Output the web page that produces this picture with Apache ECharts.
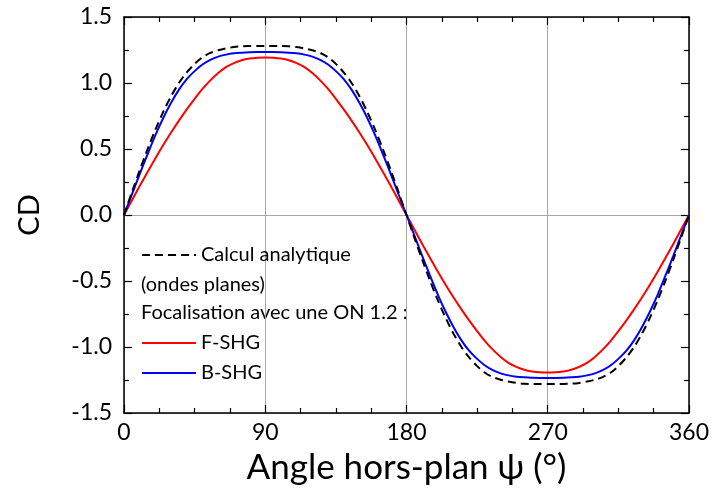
<!DOCTYPE html>
<html>
<head>
<meta charset="utf-8">
<script src="https://cdn.jsdelivr.net/npm/echarts@6/dist/echarts.min.js"></script>
<style>
html,body{margin:0;padding:0;background:#fff;}
#c{width:712px;height:497px;}
</style>
</head>
<body>
<div id="c"></div>
<script>
// Data (every 5 degrees)
var angles = [0,5,10,15,20,25,30,35,40,45,50,55,60,65,70,75,80,85,90,
  95,100,105,110,115,120,125,130,135,140,145,150,155,160,165,170,175,180,
  185,190,195,200,205,210,215,220,225,230,235,240,245,250,255,260,265,270,
  275,280,285,290,295,300,305,310,315,320,325,330,335,340,345,350,355,360];
var analytique = [0,0.171,0.339,0.498,0.647,0.781,0.900,1.000,1.080,1.145,1.195,1.228,1.248,1.262,1.272,1.278,1.280,1.281,1.281,
  1.281,1.280,1.278,1.272,1.262,1.248,1.228,1.195,1.145,1.080,1.000,0.900,0.781,0.647,0.498,0.339,0.171,0,
  -0.171,-0.339,-0.498,-0.647,-0.781,-0.900,-1.000,-1.080,-1.145,-1.195,-1.228,-1.248,-1.262,-1.272,-1.278,-1.280,-1.281,-1.281,
  -1.281,-1.280,-1.278,-1.272,-1.262,-1.248,-1.228,-1.195,-1.145,-1.080,-1.000,-0.900,-0.781,-0.647,-0.498,-0.339,-0.171,0];
var fshg = [0,0.110,0.220,0.325,0.430,0.530,0.625,0.715,0.800,0.880,0.955,1.020,1.075,1.120,1.150,1.172,1.185,1.192,1.194,
  1.192,1.185,1.172,1.150,1.120,1.075,1.020,0.955,0.880,0.800,0.715,0.625,0.530,0.430,0.325,0.220,0.110,0,
  -0.110,-0.220,-0.325,-0.430,-0.530,-0.625,-0.715,-0.800,-0.880,-0.955,-1.020,-1.075,-1.120,-1.150,-1.172,-1.185,-1.192,-1.194,
  -1.192,-1.185,-1.172,-1.150,-1.120,-1.075,-1.020,-0.955,-0.880,-0.800,-0.715,-0.625,-0.530,-0.430,-0.325,-0.220,-0.110,0];
var bshg = [0,0.155,0.310,0.460,0.605,0.735,0.850,0.950,1.030,1.090,1.140,1.175,1.200,1.215,1.225,1.230,1.233,1.234,1.234,
  1.234,1.233,1.230,1.225,1.215,1.200,1.175,1.140,1.090,1.030,0.950,0.850,0.735,0.605,0.460,0.310,0.155,0,
  -0.155,-0.310,-0.460,-0.605,-0.735,-0.850,-0.950,-1.030,-1.090,-1.140,-1.175,-1.200,-1.215,-1.225,-1.230,-1.233,-1.234,-1.234,
  -1.234,-1.233,-1.230,-1.225,-1.215,-1.200,-1.175,-1.140,-1.090,-1.030,-0.950,-0.850,-0.735,-0.605,-0.460,-0.310,-0.155,0];
var xTicks = [0,90,180,270,360];
var yTicks = [-1.5,-1.0,-0.5,0.0,0.5,1.0,1.5];
var names = ['Calcul analytique','F-SHG','B-SHG'];
var legendNote1 = '(ondes planes)';
var legendNote2 = 'Focalisation avec une ON 1.2 :';
var xTitle = 'Angle hors-plan \u03C8 (\u00B0)';
var yTitle = 'CD';

function pairs(xs, ys){ return xs.map(function(x,i){ return [x, ys[i]]; }); }

var FONT = 'Lato';
var chart = echarts.init(document.getElementById('c'));
var frameAxisLine = {show:true, onZero:false, lineStyle:{color:'#000', width:1.5}};
var tickStyle = {color:'#000', width:1.2};
var option = {
  animation:false,
  backgroundColor:'#fff',
  grid:{left:124, right:21, top:17, bottom:84, containLabel:false},
  xAxis:[
    {type:'value', min:xTicks[0], max:xTicks[xTicks.length-1], interval:90, position:'bottom',
     axisLine:frameAxisLine,
     axisTick:{show:true, inside:true, length:8, lineStyle:tickStyle},
     minorTick:{show:true, splitNumber:4, length:5, lineStyle:tickStyle},
     splitLine:{show:true, lineStyle:{color:'#a6a6a6', width:1}},
     axisLabel:{fontFamily:FONT, fontSize:23, color:'#000', margin:8},
     name:xTitle, nameLocation:'middle', nameGap:37,
     nameTextStyle:{fontFamily:FONT, fontSize:35, color:'#000'}},
    {type:'value', min:xTicks[0], max:xTicks[xTicks.length-1], interval:90, position:'top',
     axisLine:frameAxisLine,
     axisTick:{show:true, inside:true, length:8, lineStyle:tickStyle},
     minorTick:{show:true, splitNumber:4, length:5, lineStyle:tickStyle},
     splitLine:{show:false}, axisLabel:{show:false}}
  ],
  yAxis:[
    {type:'value', min:yTicks[0], max:yTicks[yTicks.length-1], interval:0.5, position:'left',
     axisLine:frameAxisLine,
     axisTick:{show:true, inside:true, length:8, lineStyle:tickStyle},
     minorTick:{show:true, splitNumber:2, length:5, lineStyle:tickStyle},
     splitLine:{show:false},
     axisLabel:{fontFamily:FONT, fontSize:23, color:'#000', margin:12,
       formatter:function(v){ return v.toFixed(1); }},
     name:yTitle, nameLocation:'middle', nameGap:80, nameRotate:90,
     nameTextStyle:{fontFamily:FONT, fontSize:29, color:'#000'}},
    {type:'value', min:yTicks[0], max:yTicks[yTicks.length-1], interval:0.5, position:'right',
     axisLine:frameAxisLine,
     axisTick:{show:true, inside:true, length:8, lineStyle:tickStyle},
     minorTick:{show:true, splitNumber:2, length:5, lineStyle:tickStyle},
     splitLine:{show:false}, axisLabel:{show:false}},
    {type:'value', min:yTicks[0], max:yTicks[yTicks.length-1], interval:1.5, position:'left',
     axisLine:{show:false}, axisTick:{show:false}, axisLabel:{show:false},
     splitLine:{show:true, lineStyle:{color:'#a6a6a6', width:1}}}
  ],
  legend:[
    {data:[names[0]], left:141, top:245, orient:'vertical', padding:0,
     itemWidth:54, itemHeight:14, itemGap:10, itemStyle:{opacity:0},
     textStyle:{fontFamily:FONT, fontSize:20, color:'#000'}},
    {data:[names[1], names[2]], left:141, top:333, orient:'vertical', padding:0,
     itemWidth:54, itemHeight:14, itemGap:10, itemStyle:{opacity:0},
     textStyle:{fontFamily:FONT, fontSize:20, color:'#000'}}
  ],
  graphic:[
    {type:'text', left:141, top:275, style:{text:legendNote1, font:'20px ' + FONT, fill:'#000'}},
    {type:'text', left:141, top:303, style:{text:legendNote2, font:'20px ' + FONT, fill:'#000'}}
  ],
  series:[
    {name:names[1], type:'line', data:pairs(angles, fshg), smooth:0.3, showSymbol:false, symbol:'none',
     lineStyle:{color:'#ff0000', width:2}, itemStyle:{color:'#ff0000'}, z:3},
    {name:names[2], type:'line', data:pairs(angles, bshg), smooth:0.3, showSymbol:false, symbol:'none',
     lineStyle:{color:'#0000ff', width:2}, itemStyle:{color:'#0000ff'}, z:4},
    {name:names[0], type:'line', data:pairs(angles, analytique), smooth:0.3, showSymbol:false, symbol:'none',
     lineStyle:{color:'#000', width:2, type:[8,5]}, itemStyle:{color:'#000'}, z:5}
  ]
};
chart.setOption(option);
</script>
</body>
</html>
